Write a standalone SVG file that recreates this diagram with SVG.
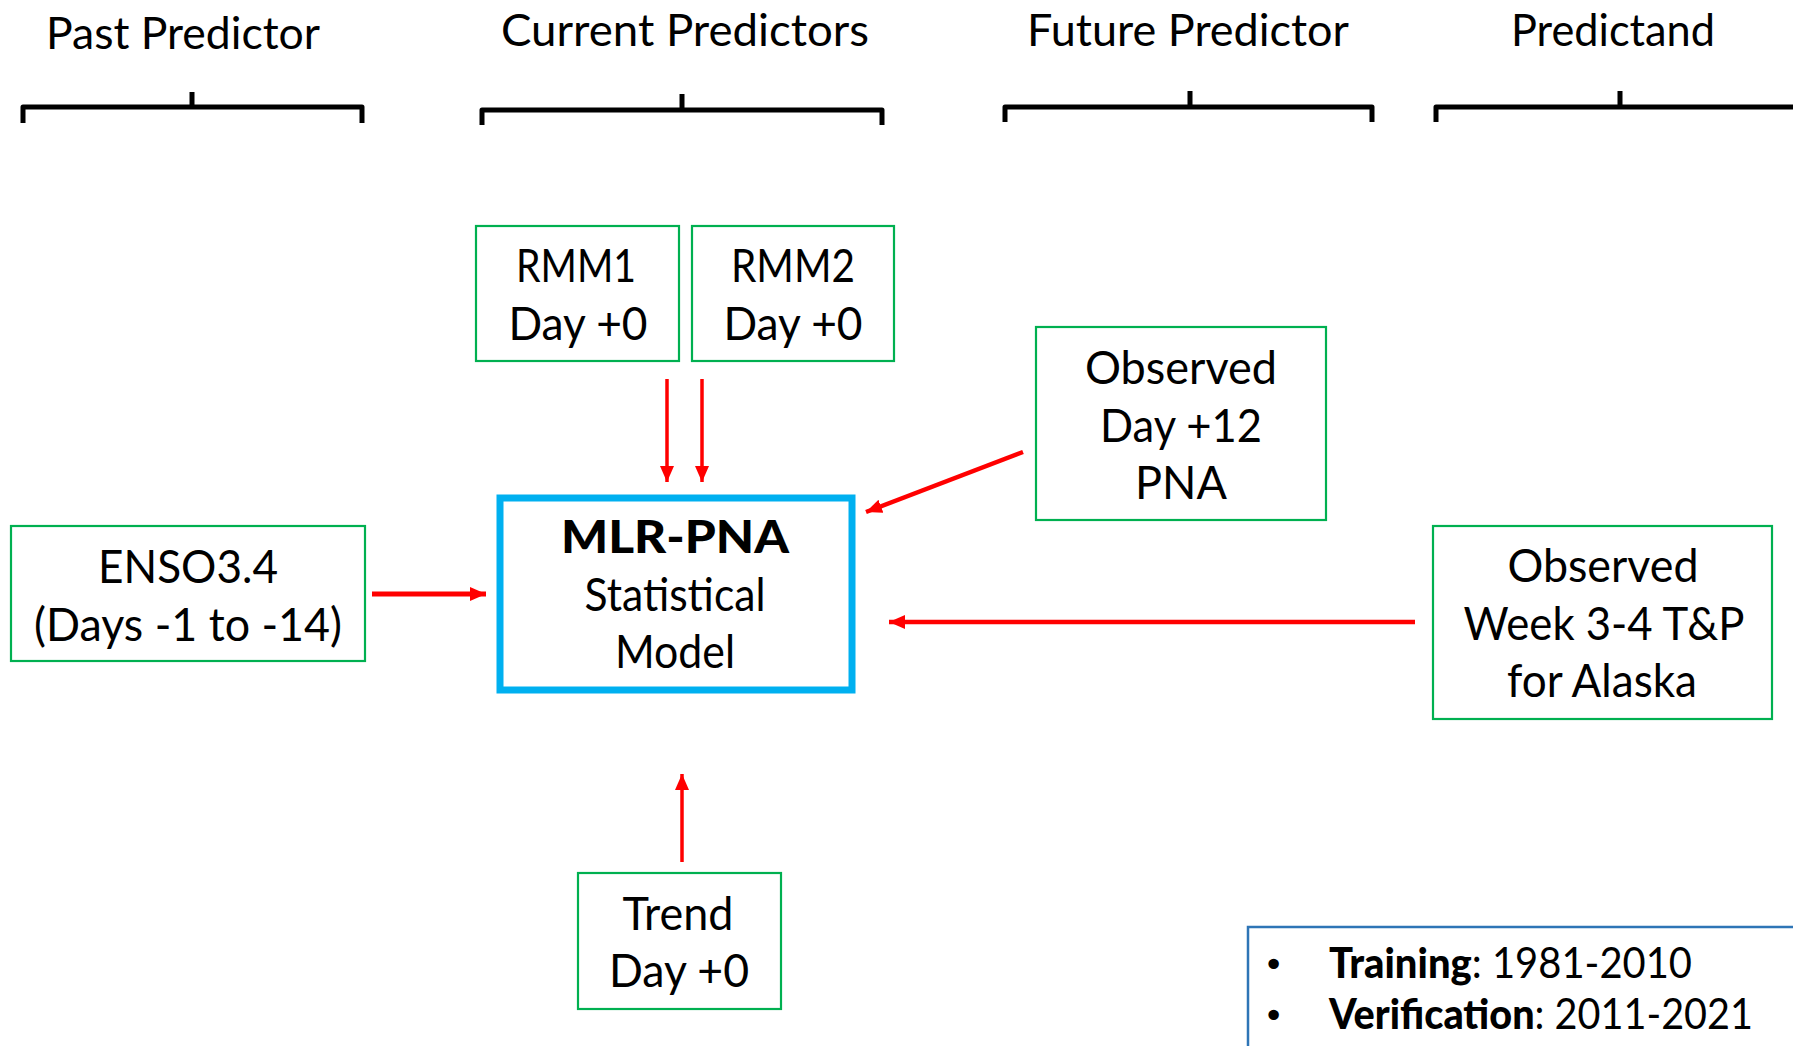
<svg xmlns="http://www.w3.org/2000/svg" width="1793" height="1046" viewBox="0 0 1793 1046">
<style>
.hdr{font-family:Lato,"Open Sans",sans-serif;font-size:44px;fill:#000;text-anchor:middle}
.t{font-family:Lato,"Open Sans",sans-serif;font-size:46px;fill:#000;text-anchor:middle}
.b{font-weight:900}
.box{fill:#fff;stroke:#00B050;stroke-width:2.2}
.brk{fill:none;stroke:#000;stroke-width:5;stroke-linejoin:round}
.arr{stroke:#FF0000;fill:none}
.leg{font-family:Lato,"Open Sans",sans-serif;font-size:42px;fill:#000}
.bul{font-family:"DejaVu Sans",sans-serif;font-size:36px;fill:#000}
</style>
<defs>
<marker id="ah" markerUnits="userSpaceOnUse" viewBox="0 0 16 14" refX="16" refY="7" markerWidth="16" markerHeight="14" orient="auto">
<path d="M0,0 L16,7 L0,14 Z" fill="#FF0000"/>
</marker>
</defs>
<rect width="1793" height="1046" fill="#fff"/>
<g id="headers">
<text class="hdr" x="183" y="49" textLength="274" lengthAdjust="spacingAndGlyphs">Past Predictor</text>
<path class="brk" d="M23,123 V107 H362 V123 M192,107 V92"/>
<text class="hdr" x="685" y="46" textLength="368" lengthAdjust="spacingAndGlyphs">Current Predictors</text>
<path class="brk" d="M482,125 V110 H882 V125 M682,110 V94"/>
<text class="hdr" x="1188" y="46" textLength="322" lengthAdjust="spacingAndGlyphs">Future Predictor</text>
<path class="brk" d="M1005,122 V107 H1372 V122 M1190,107 V91"/>
<text class="hdr" x="1613" y="46" textLength="204" lengthAdjust="spacingAndGlyphs">Predictand</text>
<path class="brk" d="M1436,122 V107 H1800 M1620,107 V91"/>
</g>
<g id="rmm1">
<rect class="box" x="476" y="226" width="203" height="135"/>
<text class="t" x="576" y="282" textLength="120" lengthAdjust="spacingAndGlyphs">RMM1</text>
<text class="t" x="578" y="340" textLength="139" lengthAdjust="spacingAndGlyphs">Day +0</text>
</g>
<g id="rmm2">
<rect class="box" x="692" y="226" width="202" height="135"/>
<text class="t" x="793" y="282" textLength="124" lengthAdjust="spacingAndGlyphs">RMM2</text>
<text class="t" x="793" y="340" textLength="139" lengthAdjust="spacingAndGlyphs">Day +0</text>
</g>
<g id="pna">
<rect class="box" x="1036" y="327" width="290" height="193"/>
<text class="t" x="1181" y="384" textLength="192" lengthAdjust="spacingAndGlyphs">Observed</text>
<text class="t" x="1181" y="442" textLength="162" lengthAdjust="spacingAndGlyphs">Day +12</text>
<text class="t" x="1181" y="499" textLength="92" lengthAdjust="spacingAndGlyphs">PNA</text>
</g>
<g id="enso">
<rect class="box" x="11" y="526" width="354" height="135"/>
<text class="t" x="188" y="583" textLength="180" lengthAdjust="spacingAndGlyphs">ENSO3.4</text>
<text class="t" x="188" y="641" textLength="308" lengthAdjust="spacingAndGlyphs">(Days -1 to -14)</text>
</g>
<g id="mlr">
<rect x="500" y="498" width="352" height="192" fill="#fff" stroke="#00B0F0" stroke-width="7"/>
<text class="t b" x="675" y="553" textLength="228" lengthAdjust="spacingAndGlyphs">MLR-PNA</text>
<text class="t" x="675" y="611" textLength="181" lengthAdjust="spacingAndGlyphs">Statistical</text>
<text class="t" x="675" y="668" textLength="120" lengthAdjust="spacingAndGlyphs">Model</text>
</g>
<g id="alaska">
<rect class="box" x="1433" y="526" width="339" height="193"/>
<text class="t" x="1603" y="582" textLength="191" lengthAdjust="spacingAndGlyphs">Observed</text>
<text class="t" x="1604" y="640" textLength="281" lengthAdjust="spacingAndGlyphs">Week 3-4 T&amp;P</text>
<text class="t" x="1602" y="697" textLength="190" lengthAdjust="spacingAndGlyphs">for Alaska</text>
</g>
<g id="trend">
<rect class="box" x="578" y="873" width="203" height="136"/>
<text class="t" x="678" y="930" textLength="111" lengthAdjust="spacingAndGlyphs">Trend</text>
<text class="t" x="679" y="987" textLength="140" lengthAdjust="spacingAndGlyphs">Day +0</text>
</g>
<g id="legend">
<rect x="1248" y="927" width="600" height="200" fill="#fff" stroke="#2E75B6" stroke-width="2.5"/>
<text class="bul" x="1263" y="977">•</text>
<text class="leg" x="1329" y="978" textLength="363" lengthAdjust="spacingAndGlyphs"><tspan font-weight="900">Training</tspan>: 1981-2010</text>
<text class="bul" x="1263" y="1028">•</text>
<text class="leg" x="1329" y="1029" textLength="424" lengthAdjust="spacingAndGlyphs"><tspan font-weight="900">Verification</tspan>: 2011-2021</text>
</g>
<g id="connectors">
<line class="arr" x1="667" y1="379" x2="667" y2="482" stroke-width="3.5" marker-end="url(#ah)"/>
<line class="arr" x1="702" y1="379" x2="702" y2="482" stroke-width="3.5" marker-end="url(#ah)"/>
<line class="arr" x1="372" y1="594" x2="486" y2="594" stroke-width="5" marker-end="url(#ah)"/>
<line class="arr" x1="1023" y1="452" x2="866" y2="512" stroke-width="4.5" marker-end="url(#ah)"/>
<line class="arr" x1="1415" y1="622" x2="889" y2="622" stroke-width="4.5" marker-end="url(#ah)"/>
<line class="arr" x1="682" y1="862" x2="682" y2="774" stroke-width="3.5" marker-end="url(#ah)"/>
</g>
</svg>
